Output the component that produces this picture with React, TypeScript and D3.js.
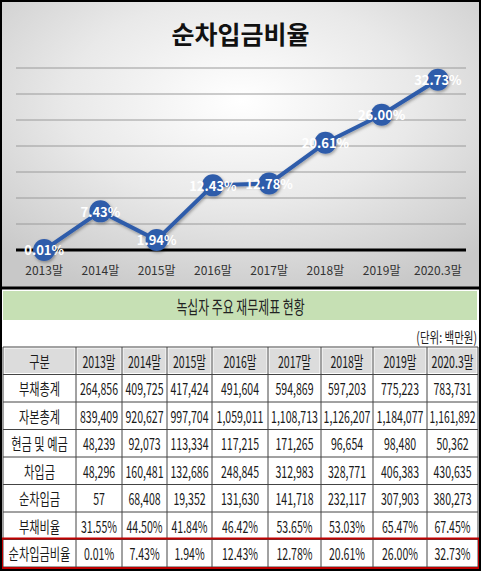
import { useEffect, useRef } from 'react';
import * as d3 from 'd3';

// chart data
const years = ['2013말', '2014말', '2015말', '2016말', '2017말', '2018말', '2019말', '2020.3말'];
const netDebtRatio = [0.01, 7.43, 1.94, 12.43, 12.78, 20.61, 26.0, 32.73];
const yTicks = [0, 5, 10, 15, 20, 25, 30, 35];

// table data
const tableTitle = '녹십자 주요 재무제표 현황';
const unitNote = '(단위: 백만원)';
const headerLabel = '구분';
const rowLabels = ['부채총계', '자본총계', '현금 및 예금', '차입금', '순차입금', '부채비율', '순차입금비율'];
const totalDebt = ['264,856', '409,725', '417,424', '491,604', '594,869', '597,203', '775,223', '783,731'];
const totalEquity = ['839,409', '920,627', '997,704', '1,059,011', '1,108,713', '1,126,207', '1,184,077', '1,161,892'];
const cashDeposits = ['48,239', '92,073', '113,334', '117,215', '171,265', '96,654', '98,480', '50,362'];
const borrowings = ['48,296', '160,481', '132,686', '248,845', '312,983', '328,771', '406,383', '430,635'];
const netBorrowings = ['57', '68,408', '19,352', '131,630', '141,718', '232,117', '307,903', '380,273'];
const debtRatio = ['31.55%', '44.50%', '41.84%', '46.42%', '53.65%', '53.03%', '65.47%', '67.45%'];
const netDebtRatioText = ['0.01%', '7.43%', '1.94%', '12.43%', '12.78%', '20.61%', '26.00%', '32.73%'];

const W = 481;
const H = 571;
const KR = '"Noto Sans CJK KR", "Noto Sans", sans-serif';
const BLUE = '#2F5CAA';

// column widths of the table (layout only)
const colWidths = [73, 46, 45, 45, 56, 53, 52, 54, 51];

export default function App() {
  const svgRef = useRef<SVGSVGElement>(null);

  useEffect(() => {
    if (!svgRef.current) return;
    document.body.style.margin = '0';
    const svg = d3.select(svgRef.current);
    svg.selectAll('*').remove();

    const defs = svg.append('defs');
    const grad = defs.append('radialGradient')
      .attr('id', 'bg')
      .attr('cx', '50%').attr('cy', '35%').attr('r', '72%');
    grad.append('stop').attr('offset', '0%').attr('stop-color', '#ffffff');
    grad.append('stop').attr('offset', '50%').attr('stop-color', '#e9e9e9');
    grad.append('stop').attr('offset', '100%').attr('stop-color', '#c8c8c8');

    const shadow = defs.append('filter').attr('id', 'shadow')
      .attr('x', '-50%').attr('y', '-50%').attr('width', '200%').attr('height', '200%');
    shadow.append('feDropShadow')
      .attr('dx', 1).attr('dy', 1.5).attr('stdDeviation', 1.5)
      .attr('flood-color', '#000').attr('flood-opacity', 0.35);

    // ---------- chart panel ----------
    const chartH = 288;
    svg.append('rect').attr('x', 0).attr('y', 0).attr('width', W).attr('height', chartH)
      .attr('fill', 'url(#bg)');

    svg.append('text')
      .attr('x', W / 2).attr('y', 33)
      .attr('text-anchor', 'middle').attr('dominant-baseline', 'central')
      .attr('font-family', KR).attr('font-weight', 700).attr('font-size', 25)
      .attr('fill', '#111')
      .text('순차입금비율');

    const x = d3.scaleBand<string>().domain(years).range([16, 466]);
    const cx = (d: string) => (x(d) || 0) + x.bandwidth() / 2;
    const y = d3.scaleLinear().domain([0, 35]).range([250, 68]);

    svg.append('g').selectAll('line')
      .data(yTicks.filter(t => t > 0))
      .enter().append('line')
      .attr('x1', 16).attr('x2', 466)
      .attr('y1', d => y(d)).attr('y2', d => y(d))
      .attr('stroke', '#9a9a9a').attr('stroke-width', 1);

    svg.append('line')
      .attr('x1', 16).attr('x2', 466)
      .attr('y1', y(0)).attr('y2', y(0))
      .attr('stroke', '#000').attr('stroke-width', 3);

    svg.append('g').selectAll('text')
      .data(years)
      .enter().append('text')
      .attr('x', d => cx(d)).attr('y', 269)
      .attr('text-anchor', 'middle').attr('dominant-baseline', 'central')
      .attr('font-family', KR).attr('font-size', 12).attr('fill', '#333')
      .text(d => d);

    const pts = years.map((d, i) => ({ year: d, v: netDebtRatio[i] }));
    const line = d3.line<{ year: string; v: number }>()
      .x(d => cx(d.year)).y(d => y(d.v));

    const series = svg.append('g').attr('filter', 'url(#shadow)');
    series.append('path')
      .datum(pts)
      .attr('d', line)
      .attr('fill', 'none').attr('stroke', BLUE).attr('stroke-width', 4)
      .attr('stroke-linejoin', 'round');

    series.selectAll('circle')
      .data(pts)
      .enter().append('circle')
      .attr('cx', d => cx(d.year)).attr('cy', d => y(d.v))
      .attr('r', 11).attr('fill', BLUE);

    svg.append('g').selectAll('text')
      .data(pts)
      .enter().append('text')
      .attr('x', d => cx(d.year)).attr('y', d => y(d.v))
      .attr('text-anchor', 'middle').attr('dominant-baseline', 'central')
      .attr('font-family', KR).attr('font-weight', 700).attr('font-size', 13)
      .attr('fill', '#fff')
      .text(d => d.v.toFixed(2) + '%');

    // ---------- table panel ----------
    svg.append('rect').attr('x', 0).attr('y', chartH).attr('width', W).attr('height', H - chartH)
      .attr('fill', '#fff');

    svg.append('rect').attr('x', 3).attr('y', 291).attr('width', 474).attr('height', 29)
      .attr('fill', '#C6E0B4');
    svg.append('text')
      .attr('transform', `translate(${W / 2},306) scale(0.66,1)`)
      .attr('text-anchor', 'middle').attr('dominant-baseline', 'central')
      .attr('font-family', KR).attr('font-size', 18).attr('fill', '#222')
      .text(tableTitle);

    svg.append('text')
      .attr('transform', `translate(477,337) scale(0.7,1)`)
      .attr('text-anchor', 'end').attr('dominant-baseline', 'central')
      .attr('font-family', KR).attr('font-size', 15).attr('fill', '#222')
      .text(unitNote);

    const rows = [
      [headerLabel, ...years],
      [rowLabels[0], ...totalDebt],
      [rowLabels[1], ...totalEquity],
      [rowLabels[2], ...cashDeposits],
      [rowLabels[3], ...borrowings],
      [rowLabels[4], ...netBorrowings],
      [rowLabels[5], ...debtRatio],
      [rowLabels[6], ...netDebtRatioText],
    ];

    const tableLeft = 3;
    const colX: number[] = [];
    colWidths.reduce((acc, w) => { colX.push(acc); return acc + w; }, tableLeft);
    const tableRight = tableLeft + d3.sum(colWidths);

    const rowY = d3.scaleBand<number>().domain(d3.range(rows.length)).range([347, 567]);

    const tg = svg.append('g');
    // header background
    colWidths.forEach((w, j) => {
      tg.append('rect')
        .attr('x', colX[j] + 1.5).attr('y', (rowY(0) || 0) + 1.5)
        .attr('width', w - 3).attr('height', rowY.bandwidth() - 3)
        .attr('fill', '#DCDCDC');
    });

    rows.forEach((row, i) => {
      const yc = (rowY(i) || 0) + rowY.bandwidth() / 2;
      row.forEach((cell, j) => {
        const t = tg.append('text')
          .attr('text-anchor', 'middle').attr('dominant-baseline', 'central')
          .attr('font-family', KR).attr('font-size', 16).attr('fill', '#1a1a1a')
          .text(cell);
        // condensed look, squeezed further if the cell is too narrow
        const raw = (t.node() as SVGTextElement).getComputedTextLength() || 1;
        const sx = Math.min(j === 0 ? 0.7 : 0.66, (colWidths[j] - 5) / raw);
        t.attr('transform', `translate(${colX[j] + colWidths[j] / 2},${yc}) scale(${sx},1)`);
      });
    });

    // grid
    d3.range(rows.length + 1).forEach(i => {
      const yy = i < rows.length ? (rowY(i) || 0) : 567;
      tg.append('line')
        .attr('x1', tableLeft).attr('x2', tableRight)
        .attr('y1', yy).attr('y2', yy)
        .attr('stroke', '#444').attr('stroke-width', 1);
    });
    [...colX, tableRight].forEach(xx => {
      tg.append('line')
        .attr('x1', xx).attr('x2', xx)
        .attr('y1', 347).attr('y2', 567)
        .attr('stroke', '#444').attr('stroke-width', 1);
    });

    // highlighted last row
    const lastY = rowY(rows.length - 1) || 0;
    tg.append('rect')
      .attr('x', 2).attr('y', lastY - 1)
      .attr('width', tableRight - 1).attr('height', rowY.bandwidth() + 2)
      .attr('fill', 'none').attr('stroke', '#C00000').attr('stroke-width', 2);

    // outer frames
    svg.append('line').attr('x1', 0).attr('x2', W).attr('y1', chartH).attr('y2', chartH)
      .attr('stroke', '#000').attr('stroke-width', 3);
    svg.append('rect').attr('x', 1).attr('y', 1).attr('width', W - 2).attr('height', H - 2)
      .attr('fill', 'none').attr('stroke', '#000').attr('stroke-width', 2);
  }, []);

  return (
    <svg
      ref={svgRef}
      width={W}
      height={H}
      style={{ display: 'block', position: 'absolute', left: 0, top: 0 }}
    />
  );
}
